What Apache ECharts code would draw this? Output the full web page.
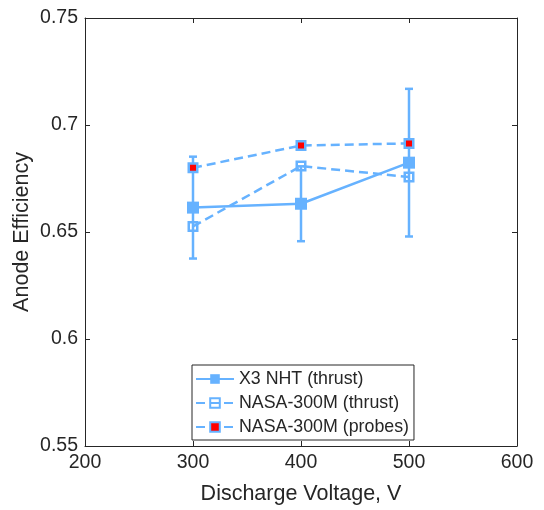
<!DOCTYPE html>
<html>
<head>
<meta charset="utf-8">
<script src="https://cdn.jsdelivr.net/npm/echarts@6/dist/echarts.min.js"></script>
<style>html,body{margin:0;padding:0;background:#fff;}#c{width:544px;height:510px;}</style>
</head>
<body>
<div id="c"></div>
<script>
const voltages = [300, 400, 500];
const x3Thrust = [0.6614, 0.6632, 0.6824];
const x3Err = [0.0238, 0.0175, 0.0345];
const nasaThrust = [0.6526, 0.6808, 0.6757];
const nasaProbes = [0.6800, 0.6904, 0.6914];
const xTicks = [200, 300, 400, 500, 600];
const yTicks = [0.55, 0.6, 0.65, 0.7, 0.75];

const BLUE = '#66b2ff';
const AX = '#262626';
const FONT = '"Liberation Sans", Arial, Helvetica, sans-serif';

const chart = echarts.init(document.getElementById('c'));
const pair = (ys) => voltages.map((v, i) => [v, ys[i]]);
const errData = voltages.map((v, i) => [v, x3Thrust[i] - x3Err[i], x3Thrust[i] + x3Err[i]]);

const baseX = {
  type: 'value', min: xTicks[0], max: xTicks[xTicks.length - 1], interval: 100,
  axisLine: { show: true, onZero: false, lineStyle: { color: AX, width: 1 } },
  axisTick: { show: true, inside: true, length: 5, lineStyle: { color: AX } },
  splitLine: { show: false }
};
const baseY = {
  type: 'value', min: yTicks[0], max: yTicks[yTicks.length - 1], interval: 0.05,
  axisLine: { show: true, onZero: false, lineStyle: { color: AX, width: 1 } },
  axisTick: { show: true, inside: true, length: 5, lineStyle: { color: AX } },
  splitLine: { show: false }
};

chart.setOption({
  animation: false,
  backgroundColor: '#fff',
  grid: { left: 85, right: 27, top: 18, bottom: 60 },
  xAxis: [
    Object.assign({}, baseX, {
      position: 'bottom',
      name: 'Discharge Voltage, V', nameLocation: 'middle', nameGap: 37,
      nameMoveOverlap: false,
      nameTextStyle: { color: AX, fontFamily: FONT, fontSize: 21.5 },
      axisLabel: { color: AX, fontFamily: FONT, fontSize: 19.5, margin: 7 }
    }),
    Object.assign({}, baseX, { position: 'top', axisLabel: { show: false } })
  ],
  yAxis: [
    Object.assign({}, baseY, {
      position: 'left',
      name: 'Anode Efficiency', nameLocation: 'middle', nameGap: 52,
      nameMoveOverlap: false,
      nameTextStyle: { color: AX, fontFamily: FONT, fontSize: 21.5 },
      axisLabel: { color: AX, fontFamily: FONT, fontSize: 19.5, margin: 7,
        formatter: v => String(parseFloat(v.toFixed(2))) }
    }),
    Object.assign({}, baseY, { position: 'right', axisLabel: { show: false } })
  ],
  legend: {
    orient: 'vertical', left: 192, top: 365,
    padding: [4, 5, 3, 3], itemGap: 4, itemWidth: 38, itemHeight: 12,
    backgroundColor: '#fff', borderColor: AX, borderWidth: 1, borderRadius: 0,
    textStyle: { color: AX, fontFamily: FONT, fontSize: 17.8, lineHeight: 20 },
    data: ['X3 NHT (thrust)', 'NASA-300M (thrust)', 'NASA-300M (probes)']
  },
  series: [
    {
      type: 'custom', name: 'x3err', z: 1, silent: true,
      data: errData,
      renderItem: function (params, api) {
        const x = api.value(0);
        const lo = api.coord([x, api.value(1)]);
        const hi = api.coord([x, api.value(2)]);
        const w = 4;
        const st = { stroke: BLUE, lineWidth: 2.5 };
        return { type: 'group', children: [
          { type: 'line', shape: { x1: hi[0], y1: hi[1], x2: lo[0], y2: lo[1] }, style: st },
          { type: 'line', shape: { x1: hi[0] - w, y1: hi[1], x2: hi[0] + w, y2: hi[1] }, style: st },
          { type: 'line', shape: { x1: lo[0] - w, y1: lo[1], x2: lo[0] + w, y2: lo[1] }, style: st }
        ] };
      }
    },
    {
      type: 'line', name: 'X3 NHT (thrust)', z: 2,
      data: pair(x3Thrust),
      symbol: 'rect', symbolSize: 12,
      itemStyle: { color: BLUE },
      lineStyle: { color: BLUE, width: 2.5 }
    },
    {
      type: 'line', name: 'NASA-300M (thrust)', z: 3,
      data: pair(nasaThrust),
      symbol: 'rect', symbolSize: 8.5,
      itemStyle: { color: 'rgba(255,255,255,0)', borderColor: BLUE, borderWidth: 2.5 },
      lineStyle: { color: BLUE, width: 2.5, type: [9, 5] }
    },
    {
      type: 'line', name: 'NASA-300M (probes)', z: 4,
      data: pair(nasaProbes),
      symbol: 'rect', symbolSize: 8.5,
      itemStyle: { color: '#ff0000', borderColor: BLUE, borderWidth: 2.5 },
      lineStyle: { color: BLUE, width: 2.5, type: [9, 5] }
    }
  ]
});
</script>
</body>
</html>
